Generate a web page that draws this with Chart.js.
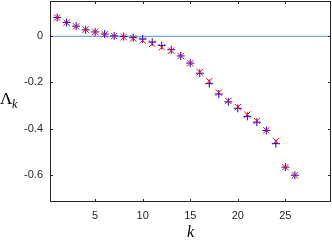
<!DOCTYPE html>
<html>
<head>
<meta charset="utf-8">
<script src="https://cdn.jsdelivr.net/npm/chart.js@4"></script>
<style>
  body { margin: 0; background: #fff; }
</style>
</head>
<body>
<canvas id="lambdaChart" width="332" height="242"></canvas>
<script>
var kValues = [1, 2, 3, 4, 5, 6, 7, 8, 9, 10, 11, 12, 13, 14, 15, 16, 17, 18, 19, 20, 21, 22, 23, 24, 25, 26];
var lambdaRed = [0.081, 0.059, 0.043, 0.029, 0.019, 0.009, 0.001, -0.003, -0.009, -0.018, -0.032, -0.047, -0.062,
                 -0.085, -0.116, -0.156, -0.194, -0.244, -0.280, -0.307, -0.340, -0.367, -0.407, -0.454, -0.567, -0.602];
var lambdaBlue = [0.081, 0.060, 0.044, 0.028, 0.019, 0.010, 0.002, -0.001, -0.006, -0.012, -0.025, -0.040, -0.058,
                  -0.085, -0.116, -0.160, -0.205, -0.250, -0.284, -0.312, -0.347, -0.372, -0.408, -0.465, -0.567, -0.602];
var xTicks = [5, 10, 15, 20, 25];
var yTicks = [0, -0.2, -0.4, -0.6];
var xRange = [0.25, 29.8];
var yRange = [-0.718, 0.153];

var axisColor = '#262626';

function toPoints(ys) {
  return kValues.map(function (k, i) { return { x: k, y: ys[i] }; });
}

// no extra room for tick labels at the axis ends
function noPadding(scale) {
  scale.paddingTop = 0;
  scale.paddingBottom = 0;
  scale.paddingLeft = 0;
  scale.paddingRight = 0;
}

var boxPlugin = {
  id: 'matlabBox',
  afterDraw: function (chart) {
    var ctx = chart.ctx, a = chart.chartArea;
    var xs = chart.scales.x, ys = chart.scales.y;
    ctx.save();
    ctx.strokeStyle = axisColor;
    ctx.lineWidth = 1;
    ctx.strokeRect(a.left + 0.5, a.top + 0.5, a.right - a.left - 1, a.bottom - a.top - 1);
    ctx.beginPath();
    xTicks.forEach(function (v) {
      var px = Math.round(xs.getPixelForValue(v)) + 0.5;
      ctx.moveTo(px, a.bottom); ctx.lineTo(px, a.bottom - 3);
      ctx.moveTo(px, a.top); ctx.lineTo(px, a.top + 3);
    });
    yTicks.forEach(function (v) {
      var py = Math.round(ys.getPixelForValue(v)) + 0.5;
      ctx.moveTo(a.left, py); ctx.lineTo(a.left + 3, py);
      ctx.moveTo(a.right, py); ctx.lineTo(a.right - 3, py);
    });
    ctx.stroke();

    // axis labels
    ctx.fillStyle = '#000';
    ctx.textBaseline = 'alphabetic';
    ctx.textAlign = 'left';
    ctx.font = '17px "Liberation Serif"';
    ctx.fillText('\u039b', 0, 104);
    ctx.font = 'italic 12px "Liberation Serif"';
    ctx.fillText('k', 12, 108);
    ctx.textAlign = 'center';
    ctx.font = 'italic 16px "Liberation Serif"';
    ctx.fillText('k', (a.left + a.right) / 2, 237);
    ctx.restore();
  }
};

var ctx = document.getElementById('lambdaChart').getContext('2d');
var lambdaChart = new Chart(ctx, {
  type: 'scatter',
  data: {
    datasets: [{
      label: 'red',
      data: toPoints(lambdaRed),
      pointStyle: 'crossRot',
      pointRadius: 4.5,
      pointBorderWidth: 1,
      borderColor: 'rgb(255,0,0)',
      backgroundColor: 'rgb(255,0,0)'
    }, {
      label: 'blue',
      data: toPoints(lambdaBlue),
      pointStyle: 'cross',
      pointRadius: 4,
      pointBorderWidth: 1,
      borderColor: 'rgb(0,0,255)',
      backgroundColor: 'rgb(0,0,255)'
    }, {
      type: 'line',
      label: 'zero',
      data: [{ x: xRange[0], y: 0 }, { x: xRange[1], y: 0 }],
      borderColor: 'rgb(90,145,215)',
      borderWidth: 1,
      pointRadius: 0
    }]
  },
  options: {
    responsive: false,
    animation: false,
    layout: { autoPadding: false, padding: { top: 1, right: 1, left: 0, bottom: 0 } },
    plugins: {
      legend: { display: false },
      tooltip: { enabled: false }
    },
    scales: {
      x: {
        type: 'linear',
        min: xRange[0],
        max: xRange[1],
        afterBuildTicks: function (scale) {
          scale.ticks = xTicks.map(function (v) { return { value: v }; });
        },
        afterFit: function (scale) { scale.height = 40; noPadding(scale); },
        grid: { display: false, drawTicks: false },
        border: { display: false },
        ticks: {
          padding: 7,
          color: axisColor,
          font: { family: '"Liberation Sans", Arial, sans-serif', size: 11 }
        }
      },
      y: {
        type: 'linear',
        min: yRange[0],
        max: yRange[1],
        afterBuildTicks: function (scale) {
          scale.ticks = yTicks.map(function (v) { return { value: v }; });
        },
        afterFit: function (scale) { scale.width = 50; noPadding(scale); },
        grid: { display: false, drawTicks: false },
        border: { display: false },
        ticks: {
          padding: 7,
          color: axisColor,
          font: { family: '"Liberation Sans", Arial, sans-serif', size: 11 }
        }
      }
    }
  },
  plugins: [boxPlugin]
});
</script>
</body>
</html>
